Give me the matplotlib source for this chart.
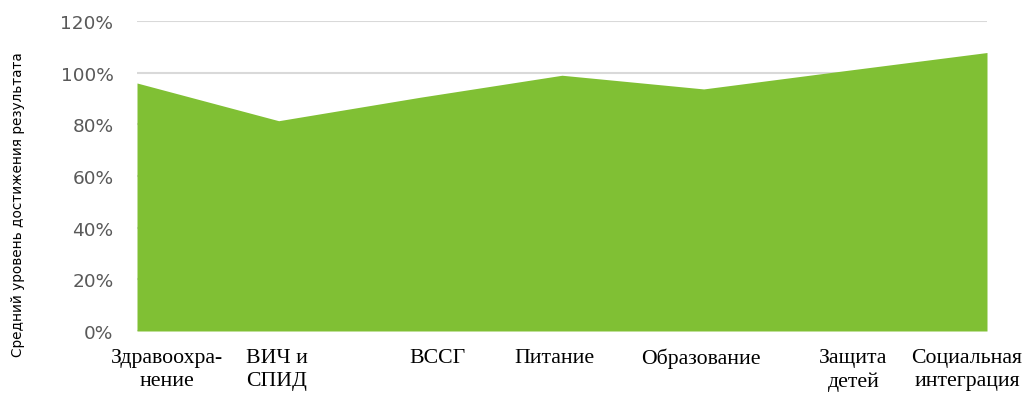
import matplotlib
matplotlib.use("Agg")
import matplotlib.pyplot as plt
import matplotlib.transforms as mtransforms
from matplotlib.ticker import FuncFormatter

categories = ["Здравоохра-\nнение", "ВИЧ и\nСПИД", "ВССГ", "Питание",
              "Образование", "Защита\nдетей", "Социальная\nинтеграция"]
values = [0.96, 0.814, 0.905, 0.99, 0.937, 1.008, 1.078]
yticks = [0, 0.2, 0.4, 0.6, 0.8, 1.0, 1.2]

fig = plt.figure(figsize=(10.24, 4.02), dpi=100)
ax = fig.add_axes([137/1024, 70/402, 850/1024, 310/402])

x = list(range(len(categories)))
ax.fill_between(x, values, 0, color="#80C034", linewidth=0, zorder=2)
ax.set_xlim(0, len(categories) - 1)
ax.set_ylim(0, 1.2)
ax.set_yticks(yticks)
ax.yaxis.set_major_formatter(FuncFormatter(lambda v, p: f"{v*100:.0f}%"))
ax.grid(axis="y", color="#D9D9D9", linewidth=1.5, zorder=1)
ax.set_axisbelow(True)
for s in ax.spines.values():
    s.set_visible(False)
ax.tick_params(axis="y", length=0, pad=17, labelsize=13.3, labelcolor="#595959")
ax.tick_params(axis="x", length=0, pad=12)

ax.set_xticks(x)
ax.set_xticklabels(categories, fontfamily="Liberation Serif", fontsize=15.7,
                   color="black", linespacing=1.3, va="top")
offsets = [30, -2, 17, -8, -3, 8, -20]
aligns = ["center", "left", "center", "center", "center", "center", "center"]
for lbl, off, al in zip(ax.get_xticklabels(), offsets, aligns):
    if al == "left":
        lbl.set_multialignment("left")
    lbl.set_transform(lbl.get_transform() +
                      mtransforms.ScaledTranslation(off/100, 0, fig.dpi_scale_trans))

fig.text(18/1024, 0.49, "Средний уровень достижения результата", rotation=90,
         ha="center", va="center", fontsize=9.8, family="DejaVu Sans")

fig.savefig("out.png", dpi=100)
